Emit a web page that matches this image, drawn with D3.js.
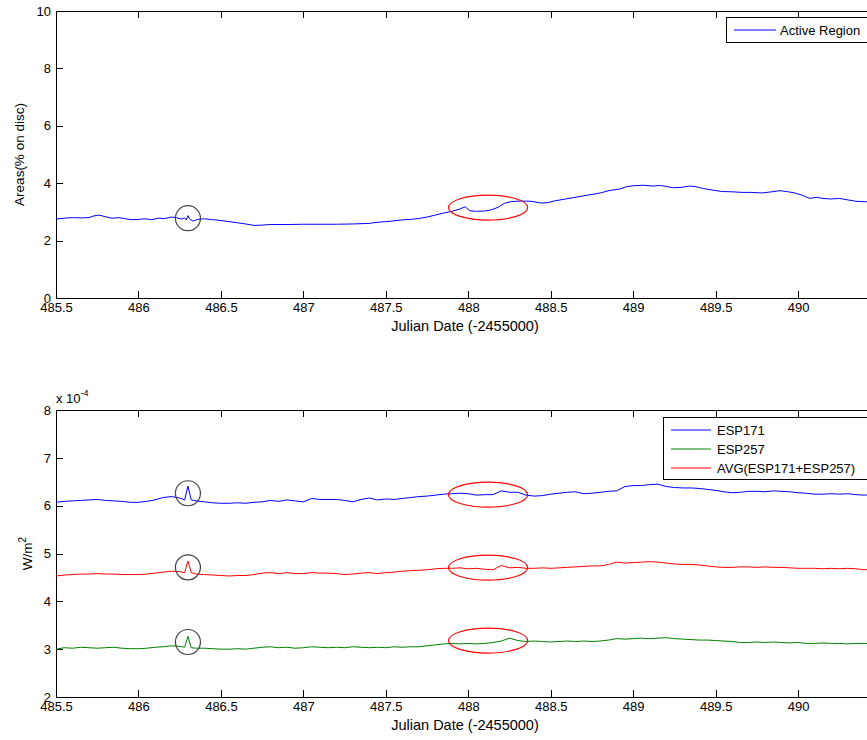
<!DOCTYPE html>
<html>
<head>
<meta charset="utf-8">
<script src="https://cdn.jsdelivr.net/npm/d3@7"></script>
<style>
  html, body { margin: 0; padding: 0; background: #fff; overflow: hidden; }
  svg { display: block; font-family: "Liberation Sans", Arial, Helvetica, sans-serif; }
</style>
</head>
<body>
<div id="chart"></div>
<script>
// ============ Data ============
// top panel: active region area (% of disc)
const areaDates = [
  485.50, 485.55, 485.60, 485.65, 485.70, 485.73, 485.76, 485.80, 485.84, 485.88,
  485.92, 485.96, 486.00, 486.04, 486.08, 486.12, 486.16, 486.20, 486.23, 486.26,
  486.28, 486.29, 486.30, 486.31, 486.33, 486.36, 486.40, 486.45, 486.50, 486.55,
  486.60, 486.65, 486.70, 486.75, 486.80, 486.90, 487.00, 487.10, 487.20, 487.30,
  487.40, 487.45, 487.50, 487.55, 487.60, 487.65, 487.70, 487.75, 487.80, 487.85,
  487.90, 487.95, 487.98, 488.01, 488.05, 488.10, 488.14, 488.18, 488.22, 488.26,
  488.32, 488.38, 488.44, 488.48, 488.52, 488.58, 488.64, 488.70, 488.75, 488.80,
  488.86, 488.92, 488.96, 489.00, 489.06, 489.12, 489.16, 489.20, 489.24, 489.30,
  489.34, 489.38, 489.42, 489.48, 489.54, 489.60, 489.66, 489.72, 489.78, 489.84,
  489.89, 489.94, 489.98, 490.03, 490.07, 490.11, 490.15, 490.20, 490.25, 490.30,
  490.35, 490.42, 490.46
];
const areaVals = [
  2.75, 2.78, 2.80, 2.79, 2.80, 2.86, 2.89, 2.83, 2.78, 2.80,
  2.76, 2.73, 2.74, 2.76, 2.73, 2.78, 2.77, 2.82, 2.80, 2.75,
  2.79, 2.72, 2.87, 2.76, 2.68, 2.74, 2.76, 2.73, 2.70, 2.66,
  2.62, 2.58, 2.53, 2.54, 2.56, 2.56, 2.57, 2.57, 2.57, 2.58,
  2.60, 2.64, 2.66, 2.69, 2.72, 2.74, 2.77, 2.82, 2.89, 2.96,
  3.02, 3.10, 3.18, 3.04, 3.02, 3.03, 3.07, 3.16, 3.30, 3.36,
  3.38, 3.37, 3.31, 3.32, 3.38, 3.44, 3.50, 3.56, 3.61, 3.66,
  3.75, 3.80, 3.88, 3.91, 3.93, 3.90, 3.92, 3.89, 3.84, 3.86,
  3.90, 3.88, 3.82, 3.76, 3.71, 3.70, 3.68, 3.68, 3.66, 3.70,
  3.74, 3.70, 3.66, 3.57, 3.47, 3.51, 3.47, 3.45, 3.47, 3.42,
  3.37, 3.35, 3.34
];

// bottom panel: irradiance, in units of 1e-4 W/m^2
const espDates = [
  485.50, 485.55, 485.60, 485.65, 485.70, 485.75, 485.80, 485.85, 485.90, 485.95,
  486.00, 486.05, 486.10, 486.15, 486.20, 486.25, 486.28, 486.30, 486.32, 486.35,
  486.40, 486.45, 486.50, 486.55, 486.60, 486.65, 486.70, 486.75, 486.80, 486.85,
  486.90, 486.95, 487.00, 487.05, 487.10, 487.15, 487.20, 487.25, 487.30, 487.35,
  487.40, 487.45, 487.50, 487.55, 487.60, 487.65, 487.70, 487.75, 487.80, 487.85,
  487.90, 487.95, 488.00, 488.05, 488.10, 488.15, 488.20, 488.25, 488.30, 488.35,
  488.40, 488.45, 488.50, 488.55, 488.60, 488.65, 488.70, 488.75, 488.80, 488.85,
  488.90, 488.95, 489.00, 489.05, 489.10, 489.15, 489.20, 489.25, 489.30, 489.35,
  489.40, 489.45, 489.50, 489.55, 489.60, 489.65, 489.70, 489.75, 489.80, 489.85,
  489.90, 489.95, 490.00, 490.05, 490.10, 490.15, 490.20, 490.25, 490.30, 490.35,
  490.40, 490.45
];
const esp171 = [
  6.07, 6.09, 6.10, 6.11, 6.12, 6.13, 6.11, 6.10, 6.09, 6.07,
  6.07, 6.09, 6.12, 6.17, 6.19, 6.16, 6.12, 6.41, 6.12, 6.10,
  6.08, 6.06, 6.05, 6.05, 6.06, 6.05, 6.07, 6.08, 6.11, 6.09,
  6.12, 6.10, 6.08, 6.15, 6.13, 6.13, 6.13, 6.11, 6.08, 6.13,
  6.16, 6.12, 6.14, 6.13, 6.15, 6.17, 6.19, 6.20, 6.22, 6.24,
  6.25, 6.26, 6.25, 6.22, 6.23, 6.23, 6.31, 6.28, 6.28, 6.22,
  6.20, 6.21, 6.24, 6.26, 6.28, 6.29, 6.25, 6.26, 6.28, 6.30,
  6.31, 6.40, 6.42, 6.42, 6.44, 6.45, 6.40, 6.38, 6.37, 6.37,
  6.36, 6.34, 6.32, 6.29, 6.27, 6.28, 6.30, 6.30, 6.29, 6.31,
  6.30, 6.29, 6.27, 6.26, 6.24, 6.24, 6.25, 6.24, 6.25, 6.23,
  6.22, 6.23
];
const esp257 = [
  3.00, 3.03, 3.02, 3.04, 3.03, 3.02, 3.03, 3.04, 3.02, 3.01,
  3.01, 3.02, 3.04, 3.05, 3.07, 3.06, 3.04, 3.27, 3.03, 3.02,
  3.02, 3.01, 3.00, 3.00, 3.01, 3.00, 3.02, 3.04, 3.05, 3.03,
  3.04, 3.02, 3.03, 3.05, 3.04, 3.03, 3.04, 3.03, 3.05, 3.04,
  3.03, 3.04, 3.03, 3.05, 3.04, 3.05, 3.05, 3.07, 3.09, 3.11,
  3.12, 3.11, 3.12, 3.11, 3.12, 3.14, 3.17, 3.23, 3.18, 3.16,
  3.17, 3.16, 3.15, 3.16, 3.17, 3.16, 3.17, 3.16, 3.17, 3.19,
  3.22, 3.21, 3.22, 3.23, 3.22, 3.23, 3.24, 3.22, 3.21, 3.20,
  3.19, 3.19, 3.18, 3.17, 3.16, 3.14, 3.14, 3.15, 3.14, 3.15,
  3.14, 3.13, 3.14, 3.12, 3.12, 3.13, 3.12, 3.12, 3.11, 3.12,
  3.12, 3.11
];
const espAvg = [
  4.53, 4.55, 4.56, 4.57, 4.57, 4.58, 4.57, 4.57, 4.56, 4.56,
  4.56, 4.57, 4.59, 4.61, 4.63, 4.62, 4.60, 4.84, 4.60, 4.57,
  4.56, 4.55, 4.54, 4.53, 4.54, 4.54, 4.56, 4.59, 4.60, 4.58,
  4.60, 4.58, 4.58, 4.60, 4.59, 4.59, 4.58, 4.56, 4.57, 4.59,
  4.60, 4.58, 4.60, 4.61, 4.63, 4.64, 4.65, 4.66, 4.68, 4.69,
  4.69, 4.70, 4.68, 4.69, 4.67, 4.66, 4.75, 4.70, 4.71, 4.69,
  4.69, 4.70, 4.69, 4.70, 4.71, 4.72, 4.73, 4.74, 4.74, 4.77,
  4.82, 4.80, 4.81, 4.82, 4.83, 4.82, 4.80, 4.78, 4.77, 4.77,
  4.76, 4.74, 4.72, 4.71, 4.71, 4.72, 4.72, 4.71, 4.72, 4.71,
  4.71, 4.70, 4.69, 4.69, 4.69, 4.68, 4.69, 4.68, 4.69, 4.68,
  4.66, 4.67
];

const xTicks = [485.5, 486, 486.5, 487, 487.5, 488, 488.5, 489, 489.5, 490];
const areaTicks = [0, 2, 4, 6, 8, 10];
const espTicks = [2, 3, 4, 5, 6, 7, 8];

// highlighted events: [date, value]
const topCircle = [486.30, 2.78];
const topEllipse = [488.12, 3.15];
const espCircles = [[486.30, 6.26], [486.30, 4.71], [486.30, 3.15]];
const espEllipses = [[488.12, 6.23], [488.12, 4.705], [488.12, 3.18]];
const ellipseHalfWidth = 0.24; // days

if (espDates.length !== esp171.length || espDates.length !== esp257.length || espDates.length !== espAvg.length)
  console.warn('esp arrays length mismatch');

// ============ Layout ============
const W = 867, H = 740;
const left = 56, right = 874;
const FONT_TICK = 13, FONT_LABEL = 14.5;

const svg = d3.select('#chart').append('svg')
  .attr('width', W).attr('height', H);

const x = d3.scaleLinear().domain([485.5, 490.46]).range([left, right]);

function drawPanel(top, bottom, yDomain, yTicks) {
  const y = d3.scaleLinear().domain(yDomain).range([bottom, top]);
  const g = svg.append('g');

  // bottom axis, ticks pointing in
  g.append('g')
    .attr('transform', `translate(0,${bottom})`)
    .call(d3.axisBottom(x).tickValues(xTicks).tickFormat(d3.format('')).tickSizeInner(-7).tickSizeOuter(0).tickPadding(5))
    .call(a => a.select('.domain').remove())
    .call(a => a.selectAll('text').attr('font-size', FONT_TICK).attr('font-family', null).attr('fill', '#000'));
  // top ticks
  g.append('g')
    .attr('transform', `translate(0,${top})`)
    .call(d3.axisTop(x).tickValues(xTicks).tickSizeInner(-7).tickSizeOuter(0).tickFormat(''))
    .call(a => a.select('.domain').remove());
  // left axis
  g.append('g')
    .attr('transform', `translate(${left},0)`)
    .call(d3.axisLeft(y).tickValues(yTicks).tickFormat(d3.format('d')).tickSizeInner(-7).tickSizeOuter(0).tickPadding(5))
    .call(a => a.select('.domain').remove())
    .call(a => a.selectAll('text').attr('font-size', FONT_TICK).attr('font-family', null).attr('fill', '#000'));
  // right ticks
  g.append('g')
    .attr('transform', `translate(${right},0)`)
    .call(d3.axisRight(y).tickValues(yTicks).tickSizeInner(-7).tickSizeOuter(0).tickFormat(''))
    .call(a => a.select('.domain').remove());

  g.selectAll('.tick line').attr('stroke', '#000').attr('shape-rendering', 'crispEdges');

  // box
  g.append('rect')
    .attr('x', left + 0.5).attr('y', top + 0.5)
    .attr('width', right - left).attr('height', bottom - top)
    .attr('fill', 'none').attr('stroke', '#000').attr('shape-rendering', 'crispEdges');

  // x label
  g.append('text')
    .attr('x', (left + right) / 2).attr('y', bottom + 33)
    .attr('text-anchor', 'middle').attr('font-size', FONT_LABEL)
    .text('Julian Date (-2455000)');

  return { g, y };
}

function addLine(g, y, xs, ys, color) {
  const pts = xs.map((d, i) => [d, ys[i]]);
  g.append('path')
    .datum(pts)
    .attr('fill', 'none')
    .attr('stroke', color)
    .attr('stroke-width', 1)
    .attr('d', d3.line().x(d => x(d[0])).y(d => y(d[1])));
}

// ── Top panel ──
const topP = drawPanel(11, 298, [0, 10], areaTicks);
addLine(topP.g, topP.y, areaDates, areaVals, '#0000ff');

topP.g.append('text')
  .attr('transform', `translate(24,${(11 + 298) / 2}) rotate(-90)`)
  .attr('text-anchor', 'middle').attr('font-size', 13.5)
  .text('Areas(% on disc)');

topP.g.append('circle')
  .attr('cx', x(topCircle[0])).attr('cy', topP.y(topCircle[1])).attr('r', 12.5)
  .attr('fill', 'none').attr('stroke', '#444').attr('stroke-width', 1.2);
topP.g.append('ellipse')
  .attr('cx', x(topEllipse[0])).attr('cy', topP.y(topEllipse[1]))
  .attr('rx', x(topEllipse[0] + ellipseHalfWidth) - x(topEllipse[0])).attr('ry', 12.5)
  .attr('fill', 'none').attr('stroke', '#ff0000').attr('stroke-width', 1.2);

// legend (top)
const lg1 = topP.g.append('g');
lg1.append('rect').attr('x', 726.5).attr('y', 17.5).attr('width', 142).attr('height', 25)
  .attr('fill', '#fff').attr('stroke', '#000').attr('shape-rendering', 'crispEdges');
lg1.append('line').attr('x1', 734).attr('x2', 776).attr('y1', 30).attr('y2', 30)
  .attr('stroke', '#0000ff');
lg1.append('text').attr('x', 780).attr('y', 34.5).attr('font-size', 13).text('Active Region');

// ── Bottom panel ──
const botP = drawPanel(410, 697, [2, 8], espTicks);
addLine(botP.g, botP.y, espDates, esp171, '#0000ff');
addLine(botP.g, botP.y, espDates, espAvg, '#ff0000');
addLine(botP.g, botP.y, espDates, esp257, '#008000');

const ylab = botP.g.append('text')
  .attr('transform', `translate(32,${(410 + 697) / 2}) rotate(-90)`)
  .attr('text-anchor', 'middle').attr('font-size', 13.5);
ylab.append('tspan').text('W/m');
ylab.append('tspan').attr('dy', -6).attr('font-size', 10).text('2');

const expo = botP.g.append('text').attr('x', 56).attr('y', 403).attr('font-size', 13);
expo.append('tspan').text('x 10');
expo.append('tspan').attr('dy', -7).attr('font-size', 9).text('-4');

espCircles.forEach(c => {
  botP.g.append('circle')
    .attr('cx', x(c[0])).attr('cy', botP.y(c[1])).attr('r', 12.5)
    .attr('fill', 'none').attr('stroke', '#444').attr('stroke-width', 1.2);
});
espEllipses.forEach(e => {
  botP.g.append('ellipse')
    .attr('cx', x(e[0])).attr('cy', botP.y(e[1]))
    .attr('rx', x(e[0] + ellipseHalfWidth) - x(e[0])).attr('ry', 12.5)
    .attr('fill', 'none').attr('stroke', '#ff0000').attr('stroke-width', 1.2);
});

// legend (bottom)
const legendItems = [
  { label: 'ESP171', color: '#0000ff' },
  { label: 'ESP257', color: '#008000' },
  { label: 'AVG(ESP171+ESP257)', color: '#ff0000' }
];
const lg2 = botP.g.append('g');
lg2.append('rect').attr('x', 663.5).attr('y', 417.5).attr('width', 205).attr('height', 62)
  .attr('fill', '#fff').attr('stroke', '#000').attr('shape-rendering', 'crispEdges');
legendItems.forEach((d, i) => {
  const yy = 430 + i * 19;
  lg2.append('line').attr('x1', 671).attr('x2', 711).attr('y1', yy).attr('y2', yy).attr('stroke', d.color);
  lg2.append('text').attr('x', 717).attr('y', yy + 4.5).attr('font-size', 13).text(d.label);
});
</script>
</body>
</html>
